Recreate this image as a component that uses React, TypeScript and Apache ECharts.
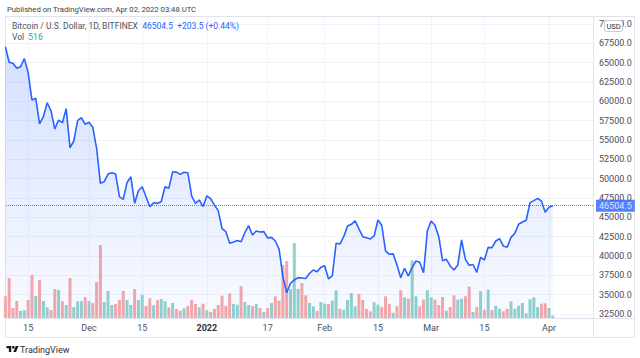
import React, { useEffect, useRef } from "react";
import * as echarts from "echarts";

// ---- data (daily closes & volume, BITFINEX BTCUSD) ----
const START_DATE = "2021-11-09";
const PREV_CLOSE = 67550; // close of 2021-11-08

const closeNov = [67060, 65050, 64920, 64270, 64480, 65520, 63700, 60170, 60390, 57070, 58020, 59820, 58790, 56420, 57580, 57240, 59050, 54000, 54870, 57500, 57880, 57030];
const closeDec = [57290, 56640, 53930, 49400, 49610, 50600, 50770, 50600, 47670, 47330, 49480, 50250, 46810, 48440, 48960, 47670, 46380, 46890, 46810, 47020, 48960, 48750, 50900, 50850, 50560, 50820, 50770, 47760, 46810, 47240, 46380];
const closeJan = [47780, 47410, 46590, 45840, 43540, 43150, 41640, 41810, 42000, 41850, 43010, 43920, 42710, 43230, 43100, 43150, 42330, 42410, 41940, 40900, 37320, 35250, 36470, 36900, 37200, 37150, 37100, 37760, 38190, 37970, 38540];
const closeFeb = [38750, 37030, 37450, 41640, 41550, 42500, 43880, 44100, 44530, 43500, 42500, 42370, 42200, 42590, 44650, 43970, 40650, 40220, 40280, 38840, 37190, 38410, 37410, 38540, 39350, 39180, 37840, 43270];
const closeMar = [44530, 43970, 42500, 39390, 39570, 38710, 38190, 38840, 42070, 39570, 38800, 38900, 37890, 39830, 39480, 41120, 41070, 41940, 42240, 41290, 41120, 42410, 42930, 44100, 44400, 44620, 46900, 47160, 47460, 47110, 45650];
const closeApr = [46301, 46504.5];

const volNov = [4470, 8240, 2060, 3500, 1440, 1590, 3710, 8860, 4530, 7830, 3500, 2200, 1650, 5970, 5770, 3440, 2680, 8240, 2270, 3440, 3500, 4330];
const volDec = [3500, 3090, 7420, 15040, 3300, 5560, 2680, 2880, 3710, 5560, 3710, 2680, 5970, 3710, 4800, 2470, 4060, 2620, 3650, 3910, 3440, 2200, 3090, 1850, 1500, 2000, 2470, 3770, 2880, 2200, 2950];
const volJan = [1590, 1240, 1850, 2680, 4590, 2530, 5090, 2880, 2740, 6530, 3300, 2680, 2470, 2880, 2060, 1240, 2060, 3090, 4470, 3560, 10920, 11740, 5970, 15450, 5970, 7210, 4680, 3090, 2410, 1440, 3300];
const volFeb = [2950, 2880, 3560, 5710, 1920, 1710, 3710, 5150, 2410, 4940, 3710, 1850, 1380, 3230, 2740, 2270, 4470, 2880, 1090, 2410, 5710, 4260, 3980, 11890, 4470, 2410, 3770, 5710];
const volMar = [4260, 3770, 2680, 4330, 1500, 2270, 4680, 3770, 3980, 4470, 6450, 1240, 2270, 5500, 1710, 5830, 1650, 2530, 1920, 1380, 1850, 3440, 1920, 2530, 3090, 970, 3850, 4260, 2270, 2950, 3030];
const volApr = [2060, 516];

const priceTicks = [32500, 35000, 37500, 40000, 42500, 45000, 47500, 50000, 52500, 55000, 57500, 60000, 62500, 65000, 67500, 70000];
const timeTickDates = ["2021-11-15", "2021-12-01", "2021-12-15", "2022-01-01", "2022-01-17", "2022-02-01", "2022-02-15", "2022-03-01", "2022-03-15", "2022-04-01"];
const timeTickLabels = ["15", "Dec", "15", "2022", "17", "Feb", "15", "Mar", "15", "Apr"];

const closes = [...closeNov, ...closeDec, ...closeJan, ...closeFeb, ...closeMar, ...closeApr];
const volumes = [...volNov, ...volDec, ...volJan, ...volFeb, ...volMar, ...volApr];

const DAY = 86400000;
const t0 = Date.parse(START_DATE + "T00:00:00Z");
const dates = closes.map((_, i) => t0 + i * DAY);
const tickTs = timeTickDates.map((d) => Date.parse(d + "T00:00:00Z"));

const FONT = "Roboto, 'Noto Sans', sans-serif";
const UP = "#92d2cc";
const DOWN = "#f7a9a7";
const BLUE = "#2962ff";

echarts.graphic.registerShape(
  "tvlogo",
  echarts.graphic.extendPath("M14 22H7V11H0V4h14v18zM28 22h-8l7.5-18h8L28 22z", {})
);

export default function App() {
  const ref = useRef<HTMLDivElement>(null);
  useEffect(() => {
    const chart = echarts.init(ref.current!, null, { renderer: "svg" });
    const lineData = closes.map((c, i) => [dates[i], c]);
    const volData = volumes.map((v, i) => {
      const prev = i === 0 ? PREV_CLOSE : closes[i - 1];
      return { value: [dates[i], v], itemStyle: { color: closes[i] >= prev ? UP : DOWN } };
    });
    const last = closes[closes.length - 1];
    const prevC = closes[closes.length - 2];
    const chg = last - prevC;
    const pct = (chg / prevC) * 100;
    const lastVol = volumes[volumes.length - 1];
    const quote =
      last.toFixed(1) + "  " + (chg >= 0 ? "+" : "") + chg.toFixed(1) + " (" + (pct >= 0 ? "+" : "") + pct.toFixed(2) + "%)";

    const xMin = t0 + 0.168 * DAY;
    const xMax = xMin + 154.4 * DAY;

    chart.setOption({
      animation: false,
      grid: { left: 6, right: 47, top: 17, bottom: 40, outerBoundsMode: "none", containLabel: false },
      xAxis: {
        type: "value",
        min: xMin,
        max: xMax,
        axisLine: { show: false },
        axisTick: { show: false, customValues: tickTs },
        splitLine: { show: true, lineStyle: { color: "#f0f3fa", width: 1 } },
        axisLabel: {
          customValues: tickTs,
          margin: 5,
          fontSize: 9,
          fontFamily: FONT,
          color: "#4a4e59",
          hideOverlap: false,
          showMinLabel: true,
          showMaxLabel: true,
          formatter: (v: number) => {
            const idx = tickTs.findIndex((t) => Math.abs(t - v) < DAY / 2);
            const s = idx >= 0 ? timeTickLabels[idx] : "";
            return /^\d{4}$/.test(s) ? "{b|" + s + "}" : s;
          },
          rich: { b: { fontSize: 9, fontWeight: "bold", fontFamily: FONT, color: "#2a2e39" } },
        },
      },
      yAxis: [
        {
          type: "value",
          position: "right",
          min: 31983,
          max: 70905,
          axisLine: { show: false },
          axisTick: { show: false, customValues: priceTicks },
          splitLine: { show: true, lineStyle: { color: "#f0f3fa", width: 1 } },
          axisLabel: {
            customValues: priceTicks,
            margin: 6,
            fontSize: 9,
            fontFamily: FONT,
            color: "#4a4e59",
            formatter: (v: number) => v.toFixed(1),
          },
        },
        { type: "value", show: false, min: 0, max: 62000, splitLine: { show: false } },
      ],
      series: [
        {
          type: "bar",
          yAxisIndex: 1,
          barWidth: 3,
          silent: true,
          z: 1,
          data: volData,
        },
        {
          type: "line",
          data: lineData,
          symbol: "none",
          z: 3,
          lineStyle: { color: BLUE, width: 1.6 },
          areaStyle: {
            color: new echarts.graphic.LinearGradient(0, 0, 0, 1, [
              { offset: 0, color: "rgba(41,98,255,0.28)" },
              { offset: 1, color: "rgba(41,98,255,0.04)" },
            ]),
          },
          markLine: {
            silent: true,
            symbol: ["none", "none"],
            lineStyle: { type: "dotted", color: BLUE, width: 1, opacity: 0.8 },
            label: {
              show: true,
              position: "end",
              distance: 3,
              formatter: (p: any) => Number(p.value).toFixed(1),
              color: "#fff",
              backgroundColor: BLUE,
              padding: [2, 3, 1, 3],
              fontSize: 9,
              fontFamily: FONT,
            },
            data: [{ yAxis: last }],
          },
        },
      ],
      graphic: [
        {
          type: "rect",
          z: -1,
          silent: true,
          shape: { x: 5.5, y: 16.5, width: 629, height: 321 },
          style: { fill: "none", stroke: "#e0e3eb", lineWidth: 1 },
        },
        {
          type: "line",
          silent: true,
          shape: { x1: 593.5, y1: 16.5, x2: 593.5, y2: 337.5 },
          style: { stroke: "#e0e3eb", lineWidth: 1 },
        },
        {
          type: "line",
          silent: true,
          shape: { x1: 5.5, y1: 318.5, x2: 634.5, y2: 318.5 },
          style: { stroke: "#e0e3eb", lineWidth: 1 },
        },
        {
          type: "text",
          x: 7,
          y: 9,
          style: {
            text: "Published on TradingView.com, Apr 02, 2022 03:48 UTC",
            fontSize: 7.7,
            fontFamily: FONT,
            fill: "#3a3e49",
            verticalAlign: "middle",
          },
        },
        {
          type: "text",
          x: 12,
          y: 25.5,
          z: 10,
          style: {
            text: "{g|Bitcoin / U.S. Dollar, 1D, BITFINEX}  {b|" + quote + "}",
            fontSize: 8.5,
            fontFamily: FONT,
            verticalAlign: "middle",
            rich: {
              g: { fontSize: 8.5, fontFamily: FONT, fill: "#50535e", color: "#50535e" },
              b: { fontSize: 8.5, fontFamily: FONT, fill: BLUE, color: BLUE },
            },
          },
        },
        {
          type: "text",
          x: 12,
          y: 37,
          z: 10,
          style: {
            text: "{g|Vol}  {t|" + String(lastVol) + "}",
            fontSize: 8.5,
            fontFamily: FONT,
            verticalAlign: "middle",
            rich: {
              g: { fontSize: 8.5, fontFamily: FONT, fill: "#50535e", color: "#50535e" },
              t: { fontSize: 8.5, fontFamily: FONT, fill: "#26a69a", color: "#26a69a" },
            },
          },
        },
        {
          type: "rect",
          z: 10,
          silent: true,
          shape: { x: 604.5, y: 20.5, width: 18, height: 11, r: 2 },
          style: { fill: "#fff", stroke: "#c9ccd6", lineWidth: 1 },
        },
        {
          type: "text",
          z: 11,
          x: 613.5,
          y: 26.3,
          style: { text: "USD", fontSize: 7.5, fontFamily: FONT, fill: "#2a2e39", align: "center", verticalAlign: "middle" },
        },
        {
          type: "tvlogo",
          x: 6.5,
          y: 344.6,
          scaleX: 0.34,
          scaleY: 0.34,
          style: { fill: "#131722" },
        },
        {
          type: "circle",
          shape: { cx: 13.3, cy: 347.3, r: 1.36 },
          style: { fill: "#131722" },
        },
        {
          type: "text",
          x: 20,
          y: 349.5,
          style: { text: "TradingView", fontSize: 9, fontFamily: FONT, fill: "#2a2e39", verticalAlign: "middle" },
        },
      ],
    });
    return () => chart.dispose();
  }, []);
  return <div ref={ref} style={{ position: "absolute", left: 0, top: 0, width: 640, height: 358 }} />;
}
